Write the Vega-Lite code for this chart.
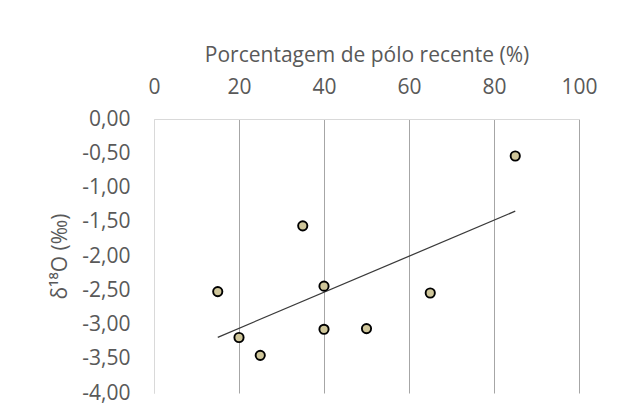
{
  "$schema": "https://vega.github.io/schema/vega-lite/v6.json",
  "width": 425,
  "height": 274,
  "autosize": {"type": "none"},
  "padding": {"left": 154, "top": 119, "right": 42, "bottom": 21},
  "background": "white",
  "config": {
    "view": {"stroke": null},
    "font": "Open Sans"
  },
  "data": {
    "values": [
      {"pct": 15, "d18O": -2.52},
      {"pct": 20, "d18O": -3.19},
      {"pct": 25, "d18O": -3.45},
      {"pct": 35, "d18O": -1.56},
      {"pct": 40, "d18O": -2.44},
      {"pct": 40, "d18O": -3.07},
      {"pct": 50, "d18O": -3.06},
      {"pct": 65, "d18O": -2.54},
      {"pct": 85, "d18O": -0.54}
    ]
  },
  "encoding": {
    "x": {
      "field": "pct",
      "type": "quantitative",
      "scale": {"domain": [0, 100], "nice": false, "zero": false},
      "axis": {
        "orient": "top",
        "title": "Porcentagem de pólo recente (%)",
        "values": [0, 20, 40, 60, 80, 100],
        "ticks": false,
        "domain": true,
        "domainColor": "#d9d9d9",
        "domainWidth": 1,
        "grid": true,
        "gridColor": {"condition": {"test": "datum.value == 0", "value": "#d9d9d9"}, "value": "#a6a6a6"},
        "gridWidth": 1,
        "labelFont": "Open Sans",
        "labelFontSize": 21,
        "labelColor": "#595959",
        "labelPadding": 22,
        "labelFlush": false,
        "titleFont": "Open Sans",
        "titleFontSize": 21,
        "titleFontWeight": "normal",
        "titleColor": "#595959",
        "titlePadding": 11
      }
    },
    "y": {
      "field": "d18O",
      "type": "quantitative",
      "scale": {"domain": [-4, 0], "nice": false, "zero": false},
      "axis": {
        "title": "δ¹⁸O (‰)",
        "values": [0, -0.5, -1, -1.5, -2, -2.5, -3, -3.5, -4],
        "labelExpr": "replace(replace(format(datum.value, '.2f'), '.', ','), '\u2212', '-')",
        "ticks": false,
        "grid": false,
        "domain": true,
        "domainColor": "#d9d9d9",
        "labelFont": "Open Sans",
        "labelFontSize": 21,
        "labelColor": "#595959",
        "labelPadding": 24,
        "labelFlush": false,
        "titleFont": "Open Sans",
        "titleFontSize": 21,
        "titleFontWeight": "normal",
        "titleColor": "#595959",
        "titlePadding": 11
      }
    }
  },
  "layer": [
    {
      "transform": [{"regression": "d18O", "on": "pct"}],
      "mark": {"type": "line", "color": "#3a3a3a", "strokeWidth": 1.25}
    },
    {
      "mark": {"type": "point", "filled": true, "fill": "#cfc69a", "stroke": "#000000", "strokeWidth": 1.9, "size": 85, "opacity": 1}
    }
  ]
}
